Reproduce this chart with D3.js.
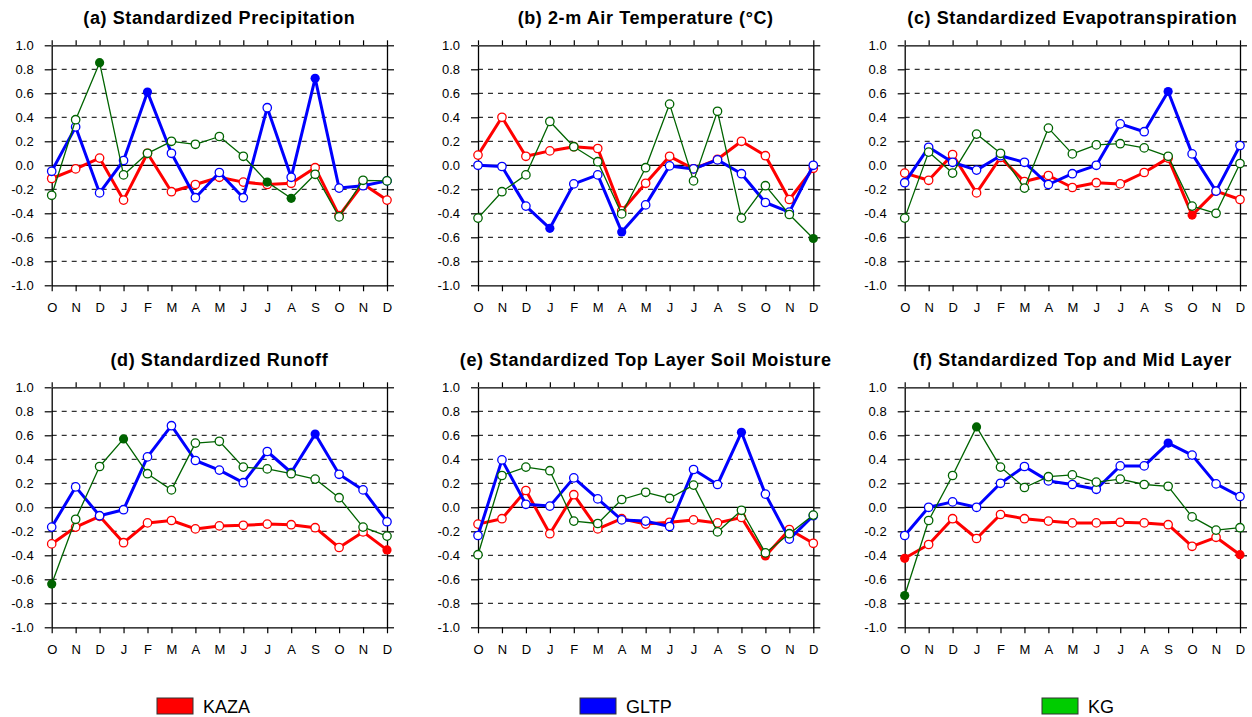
<!DOCTYPE html>
<html>
<head>
<meta charset="utf-8">
<script src="https://cdn.jsdelivr.net/npm/d3@7/dist/d3.min.js"></script>
<style>
  html, body { margin: 0; padding: 0; background: #fff; }
  svg { display: block; font-family: "Liberation Sans", Arial, Helvetica, sans-serif; }
</style>
</head>
<body>
<svg id="chart" width="1252" height="717"></svg>
<script>
// Month sequence (Oct of year 0 through Dec of year 1)
const months = ["O","N","D","J","F","M","A","M","J","J","A","S","O","N","D"];
const yTicks = [1.0, 0.8, 0.6, 0.4, 0.2, 0.0, -0.2, -0.4, -0.6, -0.8, -1.0];

const panelTitles = [
  "(a) Standardized Precipitation",
  "(b) 2-m Air Temperature (\u00B0C)",
  "(c) Standardized Evapotranspiration",
  "(d) Standardized Runoff",
  "(e) Standardized Top Layer Soil Moisture",
  "(f) Standardized Top and Mid Layer"
];

const seriesNames = ["KAZA", "GLTP", "KG"];

// (a) precipitation
const precipKAZA = [-0.11,-0.03,0.06,-0.29,0.10,-0.22,-0.16,-0.10,-0.14,-0.16,-0.15,-0.02,-0.42,-0.155,-0.29];
const precipGLTP = [-0.05,0.32,-0.23,0.04,0.61,0.10,-0.27,-0.06,-0.27,0.48,-0.10,0.725,-0.19,-0.17,-0.13];
const precipKG   = [-0.25,0.38,0.855,-0.08,0.10,0.20,0.175,0.24,0.075,-0.14,-0.275,-0.075,-0.43,-0.125,-0.13];
// (b) 2-m air temperature
const tempKAZA = [0.085,0.40,0.075,0.12,0.155,0.14,-0.38,-0.15,0.075,-0.03,0.05,0.20,0.08,-0.285,-0.025];
const tempGLTP = [0.0,-0.01,-0.34,-0.525,-0.155,-0.08,-0.555,-0.33,-0.005,-0.03,0.045,-0.07,-0.31,-0.39,0.0];
const tempKG   = [-0.44,-0.22,-0.08,0.365,0.155,0.03,-0.405,-0.02,0.51,-0.13,0.45,-0.44,-0.17,-0.41,-0.61];
// (c) evapotranspiration
const evapKAZA = [-0.065,-0.125,0.09,-0.23,0.065,-0.135,-0.085,-0.185,-0.145,-0.155,-0.06,0.06,-0.415,-0.215,-0.285];
const evapGLTP = [-0.145,0.15,0.025,-0.04,0.08,0.025,-0.16,-0.07,0.0,0.345,0.28,0.615,0.095,-0.215,0.165];
const evapKG   = [-0.44,0.11,-0.065,0.26,0.10,-0.19,0.31,0.095,0.17,0.18,0.145,0.075,-0.34,-0.40,0.015];
// (d) runoff
const runoffKAZA = [-0.305,-0.165,-0.075,-0.295,-0.13,-0.11,-0.18,-0.155,-0.15,-0.14,-0.145,-0.17,-0.335,-0.205,-0.355];
const runoffGLTP = [-0.165,0.17,-0.07,-0.02,0.42,0.68,0.39,0.31,0.205,0.465,0.29,0.61,0.275,0.145,-0.12];
const runoffKG   = [-0.64,-0.10,0.34,0.57,0.28,0.145,0.535,0.55,0.335,0.32,0.28,0.235,0.08,-0.165,-0.24];
// (e) top layer soil moisture
const soilTopKAZA = [-0.14,-0.095,0.14,-0.22,0.105,-0.18,-0.095,-0.14,-0.125,-0.105,-0.13,-0.085,-0.405,-0.185,-0.30];
const soilTopGLTP = [-0.235,0.395,0.025,0.01,0.245,0.07,-0.105,-0.115,-0.16,0.315,0.19,0.625,0.11,-0.265,-0.07];
const soilTopKG   = [-0.395,0.265,0.335,0.305,-0.115,-0.135,0.065,0.125,0.075,0.185,-0.205,-0.025,-0.38,-0.22,-0.065];
// (f) top and mid layer soil moisture
const soilMidKAZA = [-0.425,-0.31,-0.095,-0.26,-0.06,-0.095,-0.115,-0.13,-0.13,-0.125,-0.13,-0.145,-0.325,-0.25,-0.395];
const soilMidGLTP = [-0.235,0.0,0.045,0.0,0.20,0.34,0.22,0.19,0.15,0.345,0.345,0.535,0.435,0.195,0.09];
const soilMidKG   = [-0.735,-0.11,0.265,0.67,0.335,0.165,0.255,0.27,0.21,0.235,0.19,0.175,-0.08,-0.19,-0.17];

// Months (by index) drawn with solid markers
const precipSig  = [[], [4, 11], [2, 9, 10]];
const tempSig    = [[], [3, 6], [14]];
const evapSig    = [[12], [11], []];
const runoffSig  = [[14], [11], [0, 3]];
const soilTopSig = [[12], [11], []];
const soilMidSig = [[0, 14], [11], [0, 3]];

const panelSeries = [
  [precipKAZA, precipGLTP, precipKG],
  [tempKAZA, tempGLTP, tempKG],
  [evapKAZA, evapGLTP, evapKG],
  [runoffKAZA, runoffGLTP, runoffKG],
  [soilTopKAZA, soilTopGLTP, soilTopKG],
  [soilMidKAZA, soilMidGLTP, soilMidKG]
];
const panelSig = [precipSig, tempSig, evapSig, runoffSig, soilTopSig, soilMidSig];

const lineColors   = ["#ff0000", "#0000ff", "#006400"];
const legendColors = ["#ff0000", "#0000ff", "#00cc00"];
const lineWidths   = [3, 3, 1.3];

const svg = d3.select("#chart");

const colX = [51.7, 478, 904.7];
const rowY = [45.3, 387.3];
const pw = 335.3, ph = 240;

const fmt = d => d.toFixed(1);

panelSeries.forEach((series, p) => {
  const x0 = colX[p % 3], y0 = rowY[Math.floor(p / 3)];
  const x = d3.scaleLinear().domain([0, months.length - 1]).range([x0, x0 + pw]);
  const y = d3.scaleLinear().domain([-1, 1]).range([y0 + ph, y0]);
  const g = svg.append("g");

  // dashed reference lines
  g.append("g").selectAll("line")
    .data(yTicks.filter(v => v !== 0 && Math.abs(v) !== 1))
    .join("line")
    .attr("x1", x0).attr("x2", x0 + pw)
    .attr("y1", d => y(d)).attr("y2", d => y(d))
    .attr("stroke", "#000").attr("stroke-width", 1)
    .attr("stroke-dasharray", "5,5");

  // zero line
  g.append("line")
    .attr("x1", x0).attr("x2", x0 + pw)
    .attr("y1", y(0)).attr("y2", y(0))
    .attr("stroke", "#000").attr("stroke-width", 1.3);

  // axes
  const left = d3.axisLeft(y).tickValues(yTicks).tickFormat(fmt).tickSize(7).tickSizeOuter(0).tickPadding(11);
  const right = d3.axisRight(y).tickValues(yTicks).tickFormat("").tickSize(7).tickSizeOuter(0);
  const top = d3.axisTop(x).tickValues(d3.range(months.length)).tickFormat("").tickSize(5).tickSizeOuter(0);
  const bottom = d3.axisBottom(x).tickValues(d3.range(months.length)).tickFormat(i => months[i]).tickSize(6).tickSizeOuter(0).tickPadding(11);

  const styleAxis = sel => {
    sel.selectAll("path").attr("stroke", "#000").attr("stroke-width", 1.3);
    sel.selectAll("line").attr("stroke", "#000").attr("stroke-width", 1.2);
    sel.selectAll("text").attr("fill", "#000").style("font-size", "13px")
      .style("font-family", "'Liberation Sans', Arial, sans-serif");
  };
  g.append("g").attr("transform", `translate(${x0},0)`).call(left).call(styleAxis);
  g.append("g").attr("transform", `translate(${x0 + pw},0)`).call(right).call(styleAxis);
  g.append("g").attr("transform", `translate(0,${y0})`).call(top).call(styleAxis);
  g.append("g").attr("transform", `translate(0,${y0 + ph})`).call(bottom).call(styleAxis);

  // series: line then markers
  const line = d3.line().x((d, i) => x(i)).y(d => y(d));
  series.forEach((vals, s) => {
    const sg = g.append("g");
    sg.append("path").datum(vals)
      .attr("d", line)
      .attr("fill", "none")
      .attr("stroke", lineColors[s])
      .attr("stroke-width", lineWidths[s])
      .attr("stroke-linejoin", "round");
    const sig = panelSig[p][s];
    sg.selectAll("circle").data(vals).join("circle")
      .attr("cx", (d, i) => x(i))
      .attr("cy", d => y(d))
      .attr("r", (d, i) => sig.includes(i) ? 4.6 : 4.2)
      .attr("fill", (d, i) => sig.includes(i) ? lineColors[s] : "#fff")
      .attr("stroke", lineColors[s])
      .attr("stroke-width", (d, i) => sig.includes(i) ? 0 : 1.3);
  });

  // title
  g.append("text")
    .attr("x", x0 + pw / 2)
    .attr("y", y0 - 21)
    .attr("text-anchor", "middle")
    .style("font-size", "18px")
    .style("letter-spacing", "0.6px")
    .style("font-weight", "bold")
    .text(panelTitles[p]);
});

// legend
const legendX = [157, 580, 1042];
seriesNames.forEach((name, s) => {
  const lg = svg.append("g");
  lg.append("rect")
    .attr("x", legendX[s]).attr("y", 698)
    .attr("width", 36).attr("height", 16)
    .attr("fill", legendColors[s])
    .attr("stroke", "#333").attr("stroke-width", 1);
  lg.append("text")
    .attr("x", legendX[s] + 46).attr("y", 713)
    .style("font-size", "18px")
    .text(name);
});
</script>
</body>
</html>
